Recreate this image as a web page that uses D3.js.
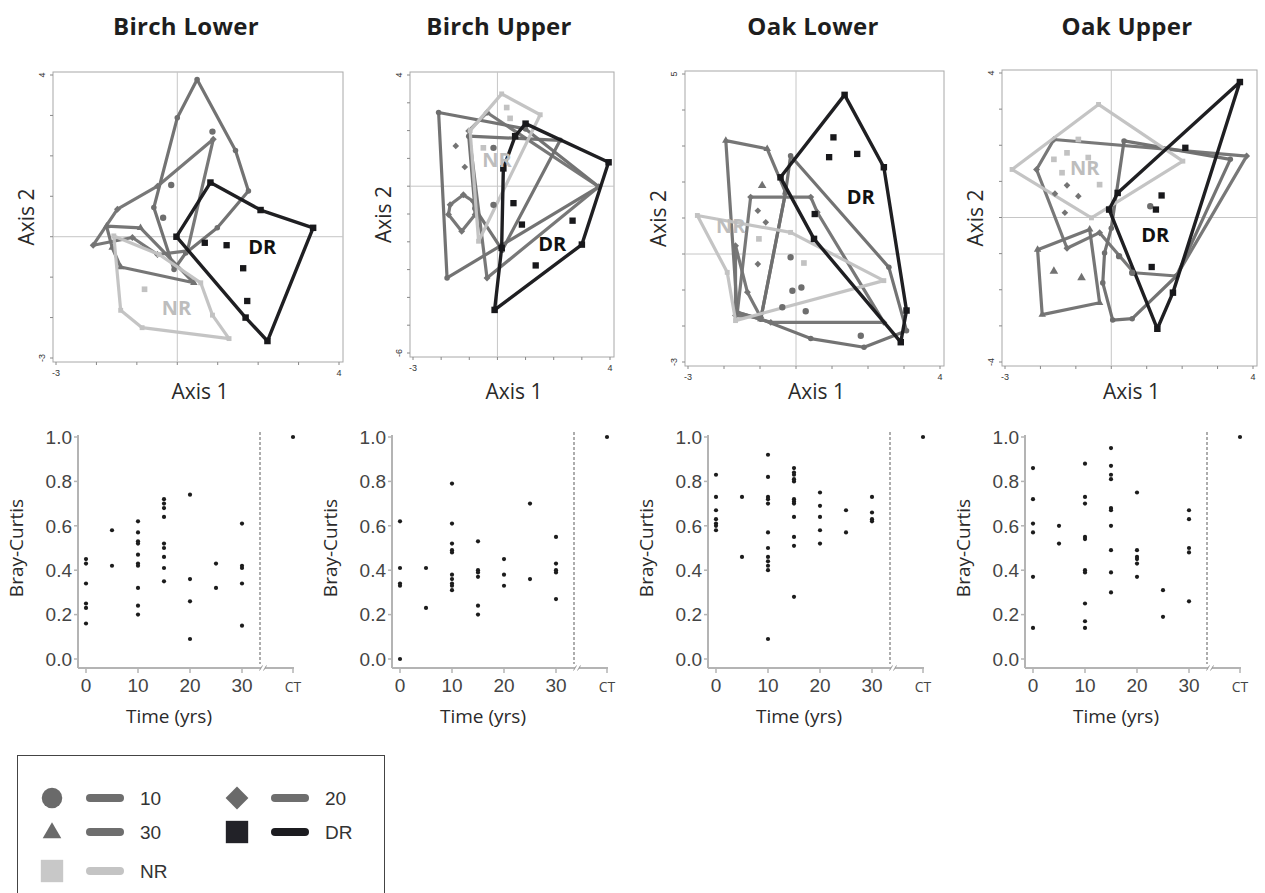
<!DOCTYPE html>
<html><head><meta charset="utf-8">
<script src="https://cdn.jsdelivr.net/npm/d3@7"></script>
<style>body{margin:0;background:#fff} svg{display:block}</style>
</head><body>
<svg id="fig" width="1265" height="893"></svg>
<script>
// ---------- ordination panels ----------
const panelTitles = ["Birch Lower", "Birch Upper", "Oak Lower", "Oak Upper"];
const axis1Range = [-3, 4];
const axis2Ranges = [[-3, 4], [-6, 4], [-3, 5], [-4, 4]];

// convex hulls per treatment group: [group, [[axis1, axis2], ...]]
const birchLowerHulls = [
  ["10", [[0.49,3.89],[1.44,2.13],[1.76,1.13],[0.99,0.22],[0.21,-0.40],[-0.08,-0.81],[-0.58,0.72],[0,2.94]]],
  ["20", [[0.89,2.41],[0.25,-0.35],[-0.49,-0.44],[-1.11,-0.02],[-2.08,-0.21],[-1.48,0.68],[-0.49,1.25]]],
  ["30", [[-1.75,0.26],[-0.91,0.22],[0.41,-1.14],[-1.40,-0.75],[-1.61,-0.27]]],
  ["NR", [[-1.57,0.02],[-1.40,-1.82],[-0.87,-2.25],[1.28,-2.52],[0.87,-1.94],[0.58,-1.14],[-0.45,-0.44]]],
  ["DR", [[0.82,1.34],[2.06,0.66],[3.36,0.22],[2.23,-2.58],[1.69,-2.0],[-0.02,0]]]
];
const birchUpperHulls = [
  ["10", [[-2.09,2.65],[1.0,2.06],[3.6,-0.02],[-1.79,-3.30]]],
  ["20", [[-0.37,2.65],[3.6,-0.02],[-0.37,-3.30],[-1.02,1.99]]],
  ["10", [[2.23,1.65],[0.17,-2.3],[-0.8,-0.8],[-1.02,1.8]]],
  ["20", [[-1.68,-0.67],[-1.21,-0.31],[-0.85,-0.55],[-0.79,-1.02],[-1.27,-1.62],[-1.74,-1.02]]],
  ["NR", [[0.15,3.32],[1.52,2.57],[-0.67,-1.98],[-0.97,2.0]]],
  ["DR", [[1.0,2.25],[3.95,0.86],[3.0,-2.1],[-0.1,-4.45],[0.15,-2.22],[0.21,0.64],[0.63,1.8]]]
];
const oakLowerHulls = [
  ["30", [[-1.95,3.15],[-0.80,2.92],[-0.29,1.71],[-0.98,-1.81],[-1.63,-1.62]]],
  ["10", [[-0.15,2.73],[2.58,-0.37],[3.07,-2.13],[1.89,-2.59],[0.41,-2.35],[-0.98,-1.81],[-0.29,1.71]]],
  ["20", [[-1.26,1.58],[0.41,1.58],[0.59,1.16],[2.44,-1.9],[-0.70,-1.9],[-1.63,-1.62]]],
  ["20", [[-1.68,0.23],[-1.35,-1.06],[-0.98,-1.76],[-1.68,-1.71]]],
  ["NR", [[-2.74,1.07],[-0.15,0.60],[2.44,-0.74],[-1.68,-1.85],[-1.91,-0.51]]],
  ["DR", [[1.35,4.42],[2.44,2.41],[3.07,-1.57],[2.91,-2.45],[0.5,0.42],[-0.43,2.13]]]
];
const oakUpperHulls = [
  ["20", [[-1.62,2.16],[3.82,1.70],[1.84,-1.62],[0.64,-1.53],[-0.33,-0.42],[-1.25,-0.85],[-2.11,1.33]]],
  ["10", [[0.36,2.12],[3.36,1.61],[1.84,-1.62],[0.59,-2.8],[0.04,-2.84],[-0.24,-1.81],[-0.19,-0.98],[0.0,-0.3]]],
  ["30", [[-2.08,-0.89],[-0.61,-0.33],[-0.33,-2.36],[-1.95,-2.69]]],
  ["NR", [[-2.80,1.33],[-0.36,3.13],[2.02,1.56],[-0.56,-0.01]]],
  ["DR", [[3.63,3.75],[0.18,0.68],[-0.06,0.22],[1.30,-3.08],[1.74,-2.08]]]
];

// plots lying inside the hulls: [group, axis1, axis2]
const birchLowerPoints = [
  ["10",-0.15,1.28],["10",-0.35,0.47],["10",0.87,2.6],["NR",-0.81,-1.30],
  ["DR",0.68,-0.15],["DR",1.22,-0.21],["DR",1.63,-0.78],["DR",1.73,-1.59]
];
const birchUpperPoints = [
  ["20",-1.48,1.45],["20",-1.16,0.69],["10",-0.14,1.38],["10",-0.14,-0.67],
  ["NR",0.33,2.83],["NR",0.45,2.44],["NR",-0.5,1.38],
  ["DR",0.57,-0.61],["DR",0.87,-1.38],["DR",2.67,-1.24],["DR",1.36,-2.85]
];
const oakLowerPoints = [
  ["30",-0.94,1.90],["20",-1.06,1.2],["20",-0.84,0.88],["20",-1.06,-0.28],
  ["10",-0.15,-0.09],["10",-0.10,-1.02],["10",0.15,-0.93],["10",-0.38,-1.48],["10",0.27,-1.59],["10",1.80,-2.27],
  ["NR",-1.03,0.42],["NR",0.22,-0.25],
  ["DR",1.04,3.24],["DR",0.92,2.69],["DR",1.70,2.78],["DR",0.52,1.11]
];
const oakUpperPoints = [
  ["30",-1.62,-1.49],["30",-0.84,-1.67],
  ["20",-1.25,0.89],["20",-0.93,0.59],["20",-1.59,0.66],["20",-1.31,0.13],
  ["10",0.22,-1.07],["10",0.59,-1.53],["10",1.10,0.31],
  ["NR",-1.62,1.61],["NR",-1.39,1.24],["NR",-1.25,1.79],["NR",-0.93,2.16],["NR",-0.65,1.66],["NR",-0.33,0.91],
  ["DR",2.09,1.93],["DR",1.42,0.61],["DR",1.26,0.22],["DR",1.14,-1.37]
];

// where the DR and NR names sit, in axis units
const drLabelAt = [[2.1,-0.3],[1.95,-2.15],[1.8,1.53],[1.24,-0.52]];
const nrLabelAt = [[-0.02,-1.8],[-0.02,0.88],[-1.81,0.74],[-0.75,1.33]];

// ---------- Bray-Curtis vs time ----------
const times = [0, 5, 10, 15, 20, 25, 30];
const ctValue = 1.0;
const birchLowerBC = [
  [0.45,0.43,0.34,0.25,0.23,0.16],
  [0.58,0.42],
  [0.62,0.57,0.53,0.52,0.47,0.43,0.42,0.32,0.24,0.20],
  [0.72,0.70,0.68,0.64,0.52,0.50,0.46,0.41,0.35],
  [0.74,0.36,0.26,0.09],
  [0.43,0.32],
  [0.61,0.42,0.41,0.34,0.15]
];
const birchUpperBC = [
  [0.62,0.41,0.34,0.33,0.0],
  [0.41,0.23],
  [0.79,0.61,0.52,0.49,0.48,0.38,0.36,0.34,0.33,0.31],
  [0.53,0.40,0.39,0.37,0.24,0.20],
  [0.45,0.38,0.33],
  [0.70,0.36],
  [0.55,0.43,0.40,0.39,0.27]
];
const oakLowerBC = [
  [0.83,0.73,0.67,0.63,0.61,0.60,0.58],
  [0.73,0.46],
  [0.92,0.82,0.73,0.72,0.70,0.57,0.50,0.46,0.44,0.42,0.40,0.09],
  [0.86,0.84,0.83,0.81,0.80,0.72,0.71,0.70,0.64,0.55,0.51,0.28],
  [0.75,0.69,0.64,0.58,0.52],
  [0.67,0.57],
  [0.73,0.66,0.63,0.62]
];
const oakUpperBC = [
  [0.86,0.72,0.61,0.57,0.37,0.14],
  [0.60,0.52],
  [0.88,0.73,0.70,0.55,0.54,0.40,0.39,0.25,0.17,0.14],
  [0.95,0.87,0.83,0.81,0.68,0.67,0.60,0.49,0.39,0.30],
  [0.75,0.49,0.46,0.45,0.43,0.37],
  [0.31,0.19],
  [0.67,0.63,0.50,0.48,0.26]
];
const bcTicks = [0, 0.2, 0.4, 0.6, 0.8, 1.0];
const timeTicks = [0, 10, 20, 30];

// ---------- legend ----------
const legendEntries = [
  ["10", "circle"], ["20", "diamond"], ["30", "triangle"], ["DR", "square"], ["NR", "square"]
];

// ---------- styling ----------
const groupColor = { "10": "#6e6e6e", "20": "#747474", "30": "#727272", "DR": "#18181b", "NR": "#c2c2c2" };
const groupShape = { "10": "circle", "20": "diamond", "30": "triangle", "DR": "square", "NR": "square" };
const titleFont = "'Open Sans', 'Noto Sans', sans-serif";
const labelFont = "'Open Sans', 'Noto Sans', sans-serif";
const numFont = "'Liberation Sans', Arial, sans-serif";

// symbol path + rotation for a marker shape (diamond = square turned 45°)
function marker(shape, size) {
  const type = shape === "circle" ? d3.symbolCircle : shape === "triangle" ? d3.symbolTriangle : d3.symbolSquare;
  return { d: d3.symbol().type(type).size(size)(), rot: shape === "diamond" ? 45 : 0 };
}

const svg = d3.select("#fig");
const hullSets = [birchLowerHulls, birchUpperHulls, oakLowerHulls, oakUpperHulls];
const pointSets = [birchLowerPoints, birchUpperPoints, oakLowerPoints, oakUpperPoints];
const bcSets = [birchLowerBC, birchUpperBC, oakLowerBC, oakUpperBC];

// pixel frames of the ordination plots
const ordBox = [
  { x: [56, 339], y: [358, 75] },
  { x: [413, 610], y: [353, 75] },
  { x: [688, 940], y: [362, 74] },
  { x: [1005, 1253], y: [362, 73] }
];
const titleX = [186, 499, 813, 1127];

panelTitles.forEach((t, i) => {
  svg.append("text").attr("x", titleX[i]).attr("y", 35)
    .attr("text-anchor", "middle").attr("font-family", titleFont)
    .attr("font-weight", 700).attr("font-size", 24).attr("letter-spacing", 0.3)
    .attr("fill", "#1e1e1e").text(t);
});

ordBox.forEach((box, i) => {
  const xs = d3.scaleLinear().domain(axis1Range).range(box.x);
  const ys = d3.scaleLinear().domain(axis2Ranges[i]).range(box.y);
  const g = svg.append("g");
  const fl = box.x[0] - 3, fr = box.x[1] + 4, ft = box.y[1] - 3, fb = box.y[0] + 4;

  g.append("rect").attr("x", fl).attr("y", ft).attr("width", fr - fl).attr("height", fb - ft)
    .attr("fill", "none").attr("stroke", "#a8a8a8").attr("stroke-width", 1);
  g.append("line").attr("x1", xs(0)).attr("x2", xs(0)).attr("y1", ft).attr("y2", fb)
    .attr("stroke", "#c6c6c6").attr("stroke-width", 1);
  g.append("line").attr("x1", fl).attr("x2", fr).attr("y1", ys(0)).attr("y2", ys(0))
    .attr("stroke", "#c6c6c6").attr("stroke-width", 1);

  // unit ticks along left and bottom edges
  const yInts = d3.range(axis2Ranges[i][0], axis2Ranges[i][1] + 1);
  const xInts = d3.range(axis1Range[0], axis1Range[1] + 1);
  g.selectAll(".yt").data(yInts).join("line")
    .attr("x1", fl - 3).attr("x2", fl).attr("y1", d => ys(d)).attr("y2", d => ys(d))
    .attr("stroke", "#888").attr("stroke-width", 1);
  g.selectAll(".xt").data(xInts).join("line")
    .attr("y1", fb).attr("y2", fb + 3).attr("x1", d => xs(d)).attr("x2", d => xs(d))
    .attr("stroke", "#888").attr("stroke-width", 1);

  // end labels
  axis2Ranges[i].forEach(v => {
    g.append("text").attr("transform", `translate(${fl - 8},${ys(v)}) rotate(-90)`)
      .attr("text-anchor", "middle").attr("font-family", numFont).attr("font-size", 9)
      .attr("fill", "#333").text(v);
  });
  axis1Range.forEach(v => {
    g.append("text").attr("x", xs(v)).attr("y", fb + 14)
      .attr("text-anchor", "middle").attr("font-family", numFont).attr("font-size", 9)
      .attr("fill", "#333").text(v);
  });

  g.append("text").attr("x", (fl + fr) / 2 + 2).attr("y", 399)
    .attr("text-anchor", "middle").attr("font-family", labelFont).attr("font-size", 21)
    .attr("fill", "#2a2a2a").text("Axis 1");
  g.append("text").attr("transform", `translate(${fl - 19},${(ft + fb) / 2}) rotate(-90)`)
    .attr("text-anchor", "middle").attr("font-family", labelFont).attr("font-size", 21)
    .attr("fill", "#2a2a2a").text("Axis 2");

  // hulls: grey ages first, then NR, then DR on top
  const order = { "10": 0, "20": 0, "30": 0, "NR": 1, "DR": 2 };
  const hulls = hullSets[i].slice().sort((a, b) => order[a[0]] - order[b[0]]);
  const line = d3.line().x(d => xs(d[0])).y(d => ys(d[1])).curve(d3.curveLinearClosed);
  hulls.forEach(([grp, pts]) => {
    g.append("path").attr("d", line(pts)).attr("fill", "none")
      .attr("stroke", groupColor[grp]).attr("stroke-width", grp === "DR" ? 3.4 : 3.2)
      .attr("stroke-linejoin", "round").attr("stroke-opacity", 0.97);
    const m = marker(groupShape[grp], grp === "DR" ? 42 : 24);
    g.selectAll(null).data(pts).join("path")
      .attr("transform", d => `translate(${xs(d[0])},${ys(d[1])}) rotate(${m.rot})`)
      .attr("d", m.d).attr("fill", groupColor[grp]);
  });

  pointSets[i].forEach(([grp, a1, a2]) => {
    const m = marker(groupShape[grp], grp === "DR" ? 40 : groupShape[grp] === "diamond" ? 22 : 32);
    g.append("path").attr("transform", `translate(${xs(a1)},${ys(a2)}) rotate(${m.rot})`)
      .attr("d", m.d).attr("fill", groupColor[grp]);
  });

  g.append("text").attr("x", xs(drLabelAt[i][0])).attr("y", ys(drLabelAt[i][1]))
    .attr("text-anchor", "middle").attr("dominant-baseline", "middle")
    .attr("font-family", titleFont).attr("font-weight", 700).attr("font-size", 20)
    .attr("fill", "#111").text("DR");
  g.append("text").attr("x", xs(nrLabelAt[i][0])).attr("y", ys(nrLabelAt[i][1]))
    .attr("text-anchor", "middle").attr("dominant-baseline", "middle")
    .attr("font-family", titleFont).attr("font-weight", 700).attr("font-size", 20)
    .attr("fill", "#bdbdbd").text("NR");
});

// ---------- scatter of Bray-Curtis against time ----------
const scatterOrigin = [86, 400, 716, 1033];
const yBC = d3.scaleLinear().domain([0, 1]).range([659, 437]);
scatterOrigin.forEach((x0, i) => {
  const xT = d3.scaleLinear().domain([0, 30]).range([x0, x0 + 156]);
  const ctX = xT(30) + 51, dashX = xT(30) + 18, axX = x0 - 8, axY = 668;
  const g = svg.append("g");
  const ax = "#b4b4b4";

  g.append("line").attr("x1", axX).attr("x2", axX).attr("y1", yBC(1) - 2).attr("y2", axY)
    .attr("stroke", ax).attr("stroke-width", 2);
  g.append("line").attr("x1", axX).attr("x2", dashX + 1).attr("y1", axY).attr("y2", axY)
    .attr("stroke", ax).attr("stroke-width", 2);
  g.append("line").attr("x1", dashX + 5).attr("x2", ctX + 1).attr("y1", axY).attr("y2", axY)
    .attr("stroke", ax).attr("stroke-width", 2);
  [dashX + 1, dashX + 5].forEach(bx => {
    g.append("line").attr("x1", bx - 1.5).attr("x2", bx + 1.5).attr("y1", axY + 2.5).attr("y2", axY - 2.5)
      .attr("stroke", "#999").attr("stroke-width", 1);
  });
  g.append("line").attr("x1", dashX).attr("x2", dashX).attr("y1", 432).attr("y2", axY - 4)
    .attr("stroke", "#777").attr("stroke-width", 1.2).attr("stroke-dasharray", "3,2");

  g.selectAll(".yt").data(bcTicks).join("line")
    .attr("x1", axX - 4).attr("x2", axX).attr("y1", d => yBC(d)).attr("y2", d => yBC(d))
    .attr("stroke", ax).attr("stroke-width", 1.5);
  g.selectAll(".yl").data(bcTicks).join("text")
    .attr("x", axX - 6).attr("y", d => yBC(d)).attr("dy", "0.36em")
    .attr("text-anchor", "end").attr("font-family", numFont).attr("font-size", 19)
    .attr("fill", "#444").text(d => d.toFixed(1));

  const xticks = timeTicks.map(t => [xT(t), String(t)]).concat([[ctX, "CT"]]);
  xticks.forEach(([px, lab]) => {
    g.append("line").attr("x1", px).attr("x2", px).attr("y1", axY).attr("y2", axY + 5)
      .attr("stroke", ax).attr("stroke-width", 1.5);
    g.append("text").attr("x", px).attr("y", 692).attr("text-anchor", "middle")
      .attr("font-family", lab === "CT" ? labelFont : numFont)
      .attr("font-size", lab === "CT" ? 14 : 19).attr("fill", "#444").text(lab);
  });

  g.append("text").attr("x", xT(15) + 5).attr("y", 723).attr("text-anchor", "middle")
    .attr("font-family", labelFont).attr("font-size", 19).attr("fill", "#2a2a2a").text("Time (yrs)");
  g.append("text").attr("transform", `translate(${axX - 55},${yBC(0.5)}) rotate(-90)`)
    .attr("text-anchor", "middle").attr("font-family", labelFont).attr("font-size", 19)
    .attr("fill", "#2a2a2a").text("Bray-Curtis");

  const pts = [];
  bcSets[i].forEach((vals, k) => vals.forEach(v => pts.push([times[k], v])));
  g.selectAll(".pt").data(pts).join("circle")
    .attr("cx", d => xT(d[0])).attr("cy", d => yBC(d[1])).attr("r", 2.1).attr("fill", "#1c1c1c");
  g.append("circle").attr("cx", ctX).attr("cy", yBC(ctValue)).attr("r", 2.1).attr("fill", "#1c1c1c");
});

// ---------- legend ----------
const lg = svg.append("g");
lg.append("rect").attr("x", 17.5).attr("y", 755.5).attr("width", 367).attr("height", 150)
  .attr("fill", "#fff").attr("stroke", "#444").attr("stroke-width", 1);
const legendPos = [[52, 798], [237, 798], [52, 832], [237, 832], [52, 871]];
legendEntries.forEach(([grp, shape], k) => {
  const [lx, ly] = legendPos[k];
  const fill = grp === "DR" ? "#222228" : grp === "NR" ? "#c8c8c8" : "#6a6a6a";
  const size = shape === "circle" ? 330 : shape === "diamond" ? 260 : shape === "triangle" ? 150 : 500;
  const m = marker(shape, size);
  lg.append("path").attr("transform", `translate(${lx},${ly + (shape === "triangle" ? 1 : 0)}) rotate(${m.rot})`)
    .attr("d", m.d).attr("fill", fill);
  lg.append("line").attr("x1", lx + 38).attr("x2", lx + 68).attr("y1", ly).attr("y2", ly)
    .attr("stroke", grp === "DR" ? "#1c1c20" : grp === "NR" ? "#c4c4c4" : "#6e6e6e")
    .attr("stroke-width", 8).attr("stroke-linecap", "round");
  lg.append("text").attr("x", lx + 88).attr("y", ly).attr("dy", "0.36em")
    .attr("font-family", numFont).attr("font-size", 19).attr("fill", "#333").text(grp);
});
</script>
</body></html>
